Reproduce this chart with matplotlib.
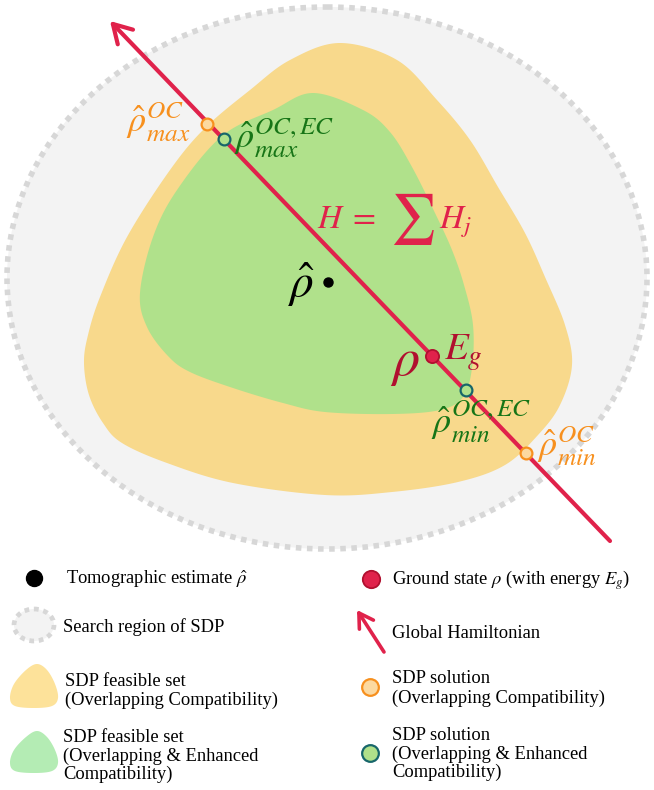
import numpy as np
import matplotlib
matplotlib.use("Agg")
import matplotlib.pyplot as plt
from matplotlib.patches import Polygon, Ellipse

plt.rcParams['font.family'] = ['Liberation Serif', 'DejaVu Serif']
plt.rcParams['mathtext.fontset'] = 'stix'

# ---------------- data (image pixel coordinates) ----------------
search_center = (327, 278)
search_size = (640, 542)

oc_outline = [(340, 43), (397, 60), (437, 100), (470, 140), (498, 187), (525, 233),
              (545, 277), (565, 325), (572, 365), (560, 405), (538, 435), (505, 465),
              (458, 482), (392, 492), (325, 495), (233, 483), (167, 463), (122, 443),
              (103, 423), (89, 395), (84, 363), (88, 335), (100, 297), (127, 237),
              (170, 170), (205, 128), (250, 90), (290, 60)]

ec_outline = [(313, 93), (363, 110), (390, 132), (412, 167), (435, 213), (452, 250),
              (464, 285), (473, 325), (472, 368), (463, 397), (440, 410), (392, 414),
              (325, 412), (283, 403), (233, 388), (190, 372), (168, 356), (147, 327),
              (140, 293), (153, 237), (177, 190), (222, 136), (273, 110)]

hamiltonian_tail = (610, 541)
hamiltonian_tip = (110, 21)

tomo_point = (328, 282)
ground_point = (432, 356)
oc_points = [(207, 124), (526, 453)]
ec_points = [(224, 139), (466, 390)]

legend_oc_blob = [(37, 664), (47, 670), (55, 684), (58, 698), (52, 706), (34, 708),
                  (15, 706), (10, 698), (14, 684), (26, 670)]
legend_ec_blob = [(37, 731), (47, 737), (55, 750), (58, 763), (52, 771), (34, 773),
                  (15, 771), (10, 763), (14, 750), (26, 737)]

legend_left = [
    ["Tomographic estimate $\\hat{\\rho}$"],
    ["Search region of SDP"],
    ["SDP feasible set", "(Overlapping Compatibility)"],
    ["SDP feasible set", "(Overlapping & Enhanced", "Compatibility)"],
]
legend_right = [
    ["Ground state $\\rho$ (with energy $E_g$)"],
    ["Global Hamiltonian"],
    ["SDP solution", "(Overlapping Compatibility)"],
    ["SDP solution", "(Overlapping & Enhanced", "Compatibility)"],
]

# ---------------- colours ----------------
C_GRAY_FILL = '#f3f3f3'
C_GRAY_EDGE = '#d7d7d7'
C_OC = '#f8d98c'
C_EC = '#b0e18b'
C_LINE = '#e0224b'
C_DARKRED = '#b0102f'
C_ORANGE = '#f7901e'
C_GREEN = '#177517'
C_TEAL = '#17666a'


def smooth_closed(pts, n=24):
    P = np.asarray(pts, float)
    N = len(P)
    out = []
    t = np.linspace(0, 1, n, endpoint=False)[:, None]
    for i in range(N):
        p0, p1, p2, p3 = P[(i - 1) % N], P[i], P[(i + 1) % N], P[(i + 2) % N]
        a = 2 * p1
        b = p2 - p0
        c = 2 * p0 - 5 * p1 + 4 * p2 - p3
        d = -p0 + 3 * p1 - 3 * p2 + p3
        out.append(0.5 * (a + b * t + c * t ** 2 + d * t ** 3))
    return np.vstack(out)


fig = plt.figure(figsize=(6.54, 7.90), dpi=100)
ax = fig.add_axes([0, 0, 1, 1])
ax.set_xlim(0, 654)
ax.set_ylim(790, 0)
ax.axis('off')

# search region
ax.add_patch(Ellipse(search_center, search_size[0], search_size[1], facecolor=C_GRAY_FILL,
                     edgecolor=C_GRAY_EDGE, lw=4.0, linestyle=(0, (1, 1)), capstyle='butt', zorder=1))
ax.add_patch(Polygon(smooth_closed(oc_outline), closed=True, facecolor=C_OC, edgecolor='none', zorder=2))
ax.add_patch(Polygon(smooth_closed(ec_outline), closed=True, facecolor=C_EC, edgecolor='none', zorder=3))

# Hamiltonian arrow
ax.annotate('', xy=hamiltonian_tip, xytext=hamiltonian_tail,
            arrowprops=dict(arrowstyle='->,head_length=0.65,head_width=0.38', lw=3.0,
                            color=C_LINE, mutation_scale=20, shrinkA=0, shrinkB=0),
            zorder=4)

# points
ax.plot(*tomo_point, 'o', ms=6.5, color='black', zorder=6)
ax.plot(*ground_point, 'o', ms=9.5, mfc=C_LINE, mec=C_DARKRED, mew=1.3, zorder=6)
for p in oc_points:
    ax.plot(*p, 'o', ms=8.5, mfc='#fcd9a0', mec=C_ORANGE, mew=1.6, zorder=6)
for p in ec_points:
    ax.plot(*p, 'o', ms=8.5, mfc=C_EC, mec=C_TEAL, mew=1.6, zorder=6)

# main labels
ax.text(317, 228, r'$H\;=$', color=C_LINE, fontsize=24, ha='left', va='baseline', zorder=7)
ax.text(412, 219, r'$\sum$', color=C_LINE, fontsize=36, ha='center', va='center', zorder=7)
ax.text(439, 228, r'$H_j$', color=C_LINE, fontsize=24, ha='left', va='baseline', zorder=7)
ax.text(288, 297, r'$\hat{\rho}$', color='black', fontsize=34, ha='left', va='baseline', zorder=7)
ax.text(390, 375, r'$\rho$', color=C_DARKRED, fontsize=39, ha='left', va='baseline', zorder=7)
ax.text(444, 360, r'$E_g$', color=C_DARKRED, fontsize=28, ha='left', va='baseline', zorder=7)
ax.text(126, 132, r'$\hat{\rho}^{OC}_{max}$', color=C_ORANGE, fontsize=26, ha='left', va='baseline', zorder=7)
ax.text(234, 148, r'$\hat{\rho}^{OC,EC}_{max}$', color=C_GREEN, fontsize=26, ha='left', va='baseline', zorder=7)
ax.text(431, 433, r'$\hat{\rho}^{OC,EC}_{min}$', color=C_GREEN, fontsize=26, ha='left', va='baseline', zorder=7)
ax.text(537, 456, r'$\hat{\rho}^{OC}_{min}$', color=C_ORANGE, fontsize=26, ha='left', va='baseline', zorder=7)

# ---------------- legend ----------------
FS = 13.3
left_baselines = [[584], [632], [686, 705], [742, 761, 779]]
right_baselines = [[585], [638], [683, 703], [740, 759, 777]]
left_x = [66, 63, 65, 63]
right_x = [392, 392, 392, 392]

ax.plot(34, 578, 'o', ms=11.5, color='black')
ax.add_patch(Ellipse((34, 625), 40, 32, facecolor=C_GRAY_FILL, edgecolor=C_GRAY_EDGE,
                     lw=3.4, linestyle=(0, (1, 1)), capstyle='butt'))
ax.add_patch(Polygon(smooth_closed(legend_oc_blob), closed=True, facecolor='#fde29a', edgecolor='none'))
ax.add_patch(Polygon(smooth_closed(legend_ec_blob), closed=True, facecolor='#b4ecb4', edgecolor='none'))

ax.plot(371, 579, 'o', ms=12.5, mfc=C_LINE, mec=C_DARKRED, mew=1.3)
ax.annotate('', xy=(357, 610), xytext=(384, 652),
            arrowprops=dict(arrowstyle='->,head_length=0.5,head_width=0.3', lw=2.6,
                            color=C_LINE, mutation_scale=20, shrinkA=0, shrinkB=0))
ax.plot(370, 687, 'o', ms=12, mfc='#fcd9a0', mec=C_ORANGE, mew=1.6)
ax.plot(370, 753, 'o', ms=12, mfc='#b0e08a', mec=C_TEAL, mew=1.6)

for lines, bls, x in zip(legend_left, left_baselines, left_x):
    for s, b in zip(lines, bls):
        ax.text(x, b, s, fontsize=FS, ha='left', va='baseline', color='black')
for lines, bls, x in zip(legend_right, right_baselines, right_x):
    for s, b in zip(lines, bls):
        ax.text(x, b, s, fontsize=FS, ha='left', va='baseline', color='black')

fig.savefig('out.png', dpi=100)
